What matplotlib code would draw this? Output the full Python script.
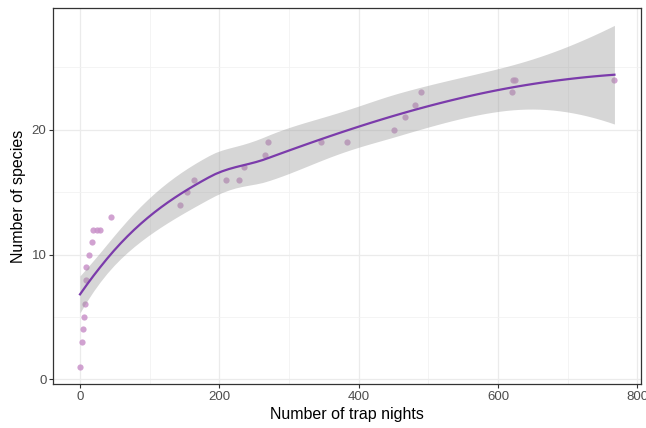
import numpy as np
import matplotlib
matplotlib.use("Agg")
import matplotlib.pyplot as plt
from matplotlib.ticker import MultipleLocator

# trap nights vs. cumulative species
trap_nights = [0, 3, 5, 6, 7, 9, 9, 13, 17, 18, 25, 29, 45, 144, 154, 163,
               210, 228, 235, 265, 270, 346, 383, 450, 467, 481, 490, 620,
               622, 625, 767]
species = [1, 3, 4, 5, 6, 8, 9, 10, 11, 12, 12, 12, 13, 14, 15, 16,
           16, 16, 17, 18, 19, 19, 19, 20, 21, 22, 23, 23, 24, 24, 24]

x_ticks = [0, 200, 400, 600, 800]
y_ticks = [0, 10, 20]

SPAN = 0.9


def local_rows(x, x0, span=SPAN):
    """Operator rows (value, slope) of a tricube local quadratic fit at x0."""
    n = len(x)
    q = int(np.floor(n * span))
    d = np.abs(x - x0)
    h = np.sort(d)[q - 1]
    u = np.clip(d / h, 0, 1)
    w = (1 - u ** 3) ** 3
    X = np.column_stack([np.ones(n), x - x0, (x - x0) ** 2])
    XtW = X.T * w
    B = np.linalg.solve(XtW @ X, XtW)
    return B[0], B[1]


def kd_vertices(x, fc):
    lo, hi = x.min(), x.max()
    mu = 0.005 * (hi - lo)
    verts = {lo - mu, hi + mu}

    def split(pts):
        if len(pts) <= fc:
            return
        m = (1 + len(pts)) // 2
        verts.add((pts[m - 1] + pts[m]) / 2)
        split(pts[:m])
        split(pts[m:])

    split(sorted(x))
    return np.array(sorted(verts))


def loess_operator(x, xs, span=SPAN):
    """loess as in R: fit at kd-tree vertices, cubic Hermite in between."""
    fc = int(np.floor(len(x) * span * 0.2))
    vs = kd_vertices(x, fc)
    vals, slopes = zip(*[local_rows(x, v, span) for v in vs])
    rows = []
    for x0 in xs:
        i = min(max(np.searchsorted(vs, x0) - 1, 0), len(vs) - 2)
        a, b = vs[i], vs[i + 1]
        dx = b - a
        t = (x0 - a) / dx
        h00 = 2 * t ** 3 - 3 * t ** 2 + 1
        h10 = t ** 3 - 2 * t ** 2 + t
        h01 = -2 * t ** 3 + 3 * t ** 2
        h11 = t ** 3 - t ** 2
        rows.append(h00 * vals[i] + h10 * dx * slopes[i]
                    + h01 * vals[i + 1] + h11 * dx * slopes[i + 1])
    return np.array(rows)


def t975(df):
    z = 1.959964
    return (z + (z ** 3 + z) / (4 * df)
            + (5 * z ** 5 + 16 * z ** 3 + 3 * z) / (96 * df ** 2)
            + (3 * z ** 7 + 19 * z ** 5 + 17 * z ** 3 - 15 * z) / (384 * df ** 3))


x = np.array(trap_nights, dtype=float)
y = np.array(species, dtype=float)

L = loess_operator(x, x)
IL = np.eye(len(x)) - L
M = IL.T @ IL
d1 = np.trace(M)
d2 = np.trace(M @ M)
sigma = np.sqrt(np.sum((IL @ y) ** 2) / d1)

xs = np.linspace(x.min(), x.max(), 80)
R = loess_operator(x, xs)
fit = R @ y
se = sigma * np.sqrt(np.sum(R ** 2, axis=1))
tq = t975(d1 ** 2 / d2)

fig = plt.figure(figsize=(6.46, 4.28), dpi=100)
ax = fig.add_axes([0.0825, 0.1028, 0.910, 0.8778])

ax.scatter(x, y, s=20, color="#C992C9", alpha=0.85, linewidths=0, zorder=2)
ax.fill_between(xs, fit - tq * se, fit + tq * se, color="#999999",
                alpha=0.4, linewidth=0, zorder=3)
ax.plot(xs, fit, color="#7B3BAB", linewidth=1.6, zorder=4)

ax.set_xticks(x_ticks)
ax.set_yticks(y_ticks)
ax.xaxis.set_minor_locator(MultipleLocator(100))
ax.yaxis.set_minor_locator(MultipleLocator(5))
ax.grid(True, which="major", color="#EBEBEB", linewidth=0.9, zorder=0)
ax.grid(True, which="minor", color="#F2F2F2", linewidth=0.6, zorder=0)
ax.set_axisbelow(True)
ax.tick_params(which="minor", length=0)
ax.tick_params(which="major", length=2.75, width=0.8, pad=2.2,
               color="#333333", labelcolor="#4D4D4D", labelsize=9.5)
for s in ax.spines.values():
    s.set_color("#333333")
    s.set_linewidth(0.9)

ax.set_xlabel("Number of trap nights", fontsize=11.5, family="Liberation Sans",
              labelpad=3)
ax.set_ylabel("Number of species", fontsize=11.5, family="Liberation Sans",
              labelpad=4)
for lab in ax.get_xticklabels() + ax.get_yticklabels():
    lab.set_family("Liberation Sans")

fig.savefig("out.png", dpi=100)
